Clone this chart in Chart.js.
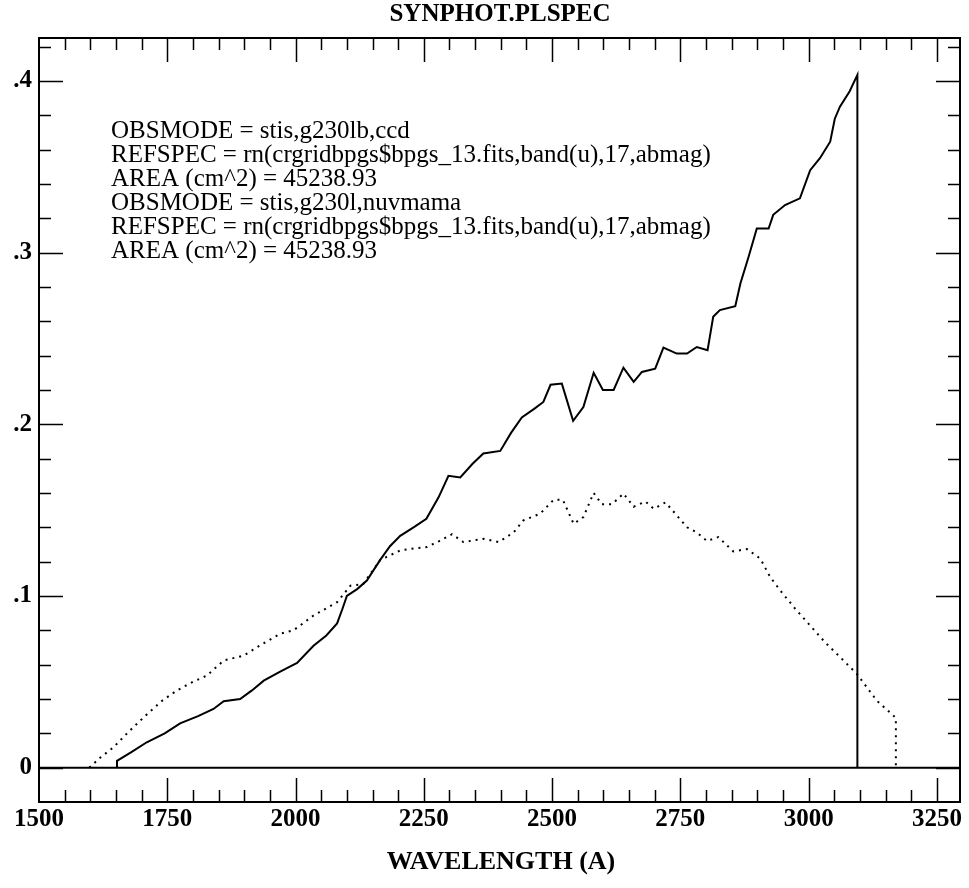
<!DOCTYPE html>
<html>
<head>
<meta charset="utf-8">
<script src="https://cdn.jsdelivr.net/npm/chart.js@4.4.1/dist/chart.umd.min.js"></script>
<style>
	html, body { margin: 0; padding: 0; background: #fff; }
	#wrap { width: 969px; height: 888px; }
</style>
</head>
<body>
<div id="wrap"><canvas id="chart"></canvas></div>
<script>
// g230lb, ccd (solid)
const ccdWave = [1652, 1652, 1680, 1710, 1745, 1775, 1810, 1840, 1860, 1892, 1915, 1938, 1970, 2003, 2035, 2060, 2081, 2092, 2100, 2120, 2139, 2165, 2184, 2204, 2230, 2255, 2279, 2298, 2321, 2345, 2366, 2399, 2420, 2441, 2465, 2483, 2497, 2519, 2541, 2561, 2581, 2599, 2620, 2639, 2659, 2675, 2701, 2717, 2743, 2763, 2782, 2803, 2814, 2827, 2857, 2867, 2883, 2899, 2922, 2931, 2954, 2983, 3003, 3022, 3042, 3051, 3061, 3080, 3095, 3095];
const ccdFlux = [0, 0.004, 0.009, 0.0148, 0.020, 0.0258, 0.030, 0.0342, 0.0387, 0.040, 0.045, 0.0507, 0.056, 0.061, 0.071, 0.077, 0.084, 0.093, 0.100, 0.104, 0.109, 0.121, 0.129, 0.135, 0.140, 0.145, 0.1576, 0.170, 0.169, 0.177, 0.183, 0.1845, 0.195, 0.204, 0.209, 0.213, 0.223, 0.2237, 0.202, 0.210, 0.230, 0.220, 0.220, 0.233, 0.2247, 0.2305, 0.2324, 0.2447, 0.2412, 0.2412, 0.245, 0.2431, 0.2626, 0.2665, 0.2688, 0.282, 0.2976, 0.314, 0.314, 0.322, 0.3277, 0.3316, 0.348, 0.355, 0.3646, 0.378, 0.385, 0.394, 0.4035, 0];

// g230l, nuvmama (dotted)
const mamaWave = [1598, 1620, 1645, 1675, 1710, 1740, 1769, 1800, 1827, 1860, 1899, 1935, 1970, 1996, 2035, 2081, 2107, 2132, 2165, 2204, 2227, 2256, 2280, 2305, 2327, 2366, 2396, 2425, 2444, 2477, 2503, 2521, 2542, 2561, 2581, 2597, 2617, 2639, 2659, 2682, 2698, 2721, 2740, 2763, 2782, 2802, 2824, 2853, 2880, 2906, 2925, 2948, 2974, 3003, 3032, 3068, 3094, 3133, 3170, 3170];
const mamaFlux = [0, 0.006, 0.0118, 0.021, 0.031, 0.039, 0.045, 0.050, 0.0536, 0.0624, 0.0653, 0.072, 0.078, 0.080, 0.0886, 0.0964, 0.106, 0.107, 0.121, 0.1265, 0.1275, 0.1285, 0.132, 0.136, 0.1314, 0.1333, 0.1314, 0.137, 0.144, 0.148, 0.156, 0.156, 0.142, 0.146, 0.160, 0.1534, 0.1535, 0.1596, 0.152, 0.155, 0.1508, 0.1545, 0.148, 0.140, 0.137, 0.132, 0.1343, 0.126, 0.1273, 0.1217, 0.111, 0.102, 0.0925, 0.0828, 0.073, 0.0624, 0.0546, 0.039, 0.029, 0];

const xMajorTicks = [1500, 1750, 2000, 2250, 2500, 2750, 3000, 3250];
const yMajorTicks = [0, 0.1, 0.2, 0.3, 0.4];
const yTickLabels = ['0', '.1', '.2', '.3', '.4'];

const chartTitle = 'SYNPHOT.PLSPEC';
const xAxisTitle = 'WAVELENGTH (A)';
const noteLines = [
	'OBSMODE = stis,g230lb,ccd',
	'REFSPEC = rn(crgridbpgs$bpgs_13.fits,band(u),17,abmag)',
	'AREA (cm^2) = 45238.93',
	'OBSMODE = stis,g230l,nuvmama',
	'REFSPEC = rn(crgridbpgs$bpgs_13.fits,band(u),17,abmag)',
	'AREA (cm^2) = 45238.93'
];

const serif = "'Liberation Serif', 'Times New Roman', serif";

const toPoints = (xs, ys) => xs.map((x, i) => ({ x: x, y: ys[i] }));

// frame, inward ticks on all sides, zero line and the text
const framePlugin = {
	id: 'frame',
	afterDraw(chart) {
		const ctx = chart.ctx;
		const area = chart.chartArea;
		const xs = chart.scales.x;
		const ys = chart.scales.y;
		ctx.save();
		ctx.strokeStyle = '#000';
		ctx.lineWidth = 2;
		ctx.strokeRect(area.left, area.top, area.right - area.left, area.bottom - area.top);

		ctx.lineWidth = 1.5;
		ctx.beginPath();
		for (let v = 1550; v <= 3250; v += 50) {
			const px = Math.round(xs.getPixelForValue(v)) + 0.5;
			const len = xMajorTicks.includes(v) ? 24 : 12;
			ctx.moveTo(px, area.bottom);
			ctx.lineTo(px, area.bottom - len);
			ctx.moveTo(px, area.top);
			ctx.lineTo(px, area.top + len);
		}
		for (let i = 0; i <= 21; i++) {
			const py = Math.round(ys.getPixelForValue(i * 0.02)) + 0.5;
			const len = i % 5 === 0 ? 24 : 12;
			ctx.moveTo(area.left, py);
			ctx.lineTo(area.left + len, py);
			ctx.moveTo(area.right, py);
			ctx.lineTo(area.right - len, py);
		}
		ctx.stroke();

		ctx.lineWidth = 2;
		const zy = ys.getPixelForValue(0);
		ctx.beginPath();
		ctx.moveTo(area.left, zy);
		ctx.lineTo(area.right, zy);
		ctx.stroke();

		ctx.fillStyle = '#000';
		ctx.textAlign = 'center';
		ctx.textBaseline = 'middle';
		ctx.font = 'bold 25px ' + serif;
		ctx.fillText(chartTitle, 500, 15);
		ctx.font = 'bold 26px ' + serif;
		ctx.fillText(xAxisTitle, 501, 862);

		ctx.textAlign = 'left';
		ctx.font = '25px ' + serif;
		noteLines.forEach((line, i) => {
			ctx.fillText(line, 111, 131 + i * 24);
		});
		ctx.restore();
	}
};

new Chart(document.getElementById('chart').getContext('2d'), {
	type: 'line',
	data: {
		datasets: [{
			label: 'stis,g230lb,ccd',
			data: toPoints(ccdWave, ccdFlux),
			borderColor: '#000',
			borderWidth: 2,
			pointRadius: 0,
			tension: 0,
			fill: false
		}, {
			label: 'stis,g230l,nuvmama',
			data: toPoints(mamaWave, mamaFlux),
			borderColor: '#000',
			borderWidth: 2,
			borderDash: [2, 5],
			pointRadius: 0,
			tension: 0,
			fill: false
		}]
	},
	options: {
		responsive: true,
		maintainAspectRatio: false,
		animation: false,
		layout: { padding: { top: 38, right: 9, left: 0, bottom: 0 } },
		plugins: {
			legend: { display: false },
			title: { display: false },
			tooltip: { enabled: false }
		},
		scales: {
			x: {
				type: 'linear',
				min: 1500,
				max: 3295,
				afterBuildTicks: scale => { scale.ticks = xMajorTicks.map(v => ({ value: v })); },
				afterFit: scale => { scale.height = 86; },
				grid: { display: false, drawTicks: false },
				border: { display: false },
				ticks: {
					autoSkip: false,
					maxRotation: 0,
					padding: 3,
					color: '#000',
					font: { family: serif, size: 25, weight: 'bold' },
					callback: v => String(v)
				}
			},
			y: {
				type: 'linear',
				min: -0.02,
				max: 0.425,
				afterBuildTicks: scale => { scale.ticks = yMajorTicks.map(v => ({ value: v })); },
				afterFit: scale => { scale.width = 39; },
				grid: { display: false, drawTicks: false },
				border: { display: false },
				ticks: {
					autoSkip: false,
					padding: 7,
					color: '#000',
					font: { family: serif, size: 25, weight: 'bold' },
					callback: (v, i) => yTickLabels[i]
				}
			}
		}
	},
	plugins: [framePlugin]
});
</script>
</body>
</html>
